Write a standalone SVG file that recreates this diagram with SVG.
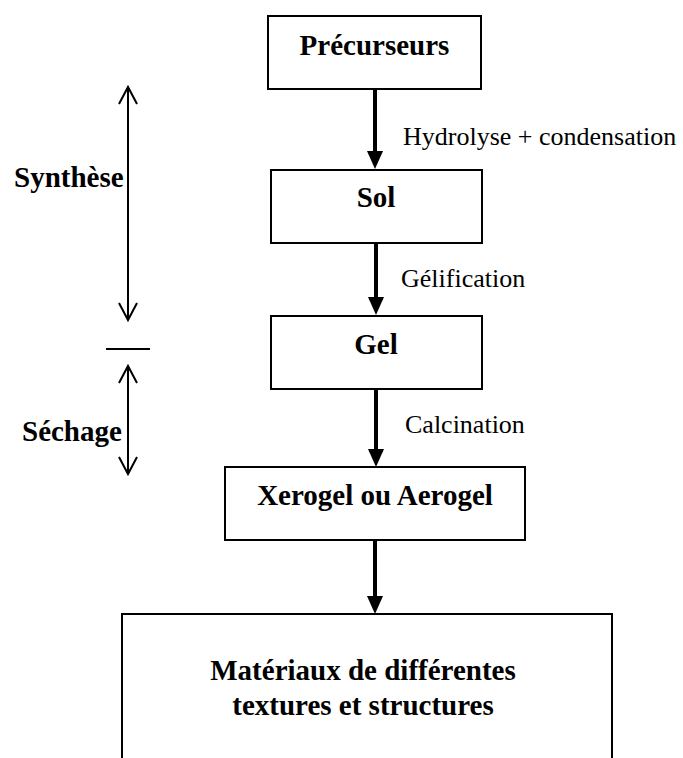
<svg xmlns="http://www.w3.org/2000/svg" width="683" height="758" viewBox="0 0 683 758">
<style>
.box{fill:#fff;stroke:#000;stroke-width:2}
.b{font-family:"Liberation Serif","Times New Roman",serif;font-weight:bold;font-size:29px;fill:#000}
.r{font-family:"Liberation Serif","Times New Roman",serif;font-size:26px;fill:#000}
.flow{stroke:#000;stroke-width:4;fill:none}
.thin{stroke:#000;stroke-width:2;fill:none}
</style>
<defs>
<marker id="ah" markerUnits="userSpaceOnUse" markerWidth="16" markerHeight="18" refX="8" refY="18" orient="auto-start-reverse" viewBox="0 0 16 18">
<path d="M0,0 L16,0 L8,18 Z" fill="#000" transform="rotate(0)"/>
</marker>
</defs>
<rect width="683" height="758" fill="#fff"/>
<g id="connectors">
<line class="flow" x1="375" y1="90" x2="375" y2="152"/>
<path d="M367,151 L383,151 L375,169 Z" fill="#000"/>
<line class="flow" x1="376" y1="244" x2="376" y2="298"/>
<path d="M368,297 L384,297 L376,315 Z" fill="#000"/>
<line class="flow" x1="376" y1="390" x2="376" y2="450"/>
<path d="M368,449 L384,449 L376,467 Z" fill="#000"/>
<line class="flow" x1="375" y1="541" x2="375" y2="597"/>
<path d="M367,596 L383,596 L375,614 Z" fill="#000"/>
<text class="r" x="403" y="145">Hydrolyse + condensation</text>
<text class="r" x="401" y="287">Gélification</text>
<text class="r" x="405" y="433">Calcination</text>
</g>
<g id="phases">
<line class="thin" x1="128" y1="87" x2="128" y2="320"/>
<path class="thin" d="M119,104 L128,87 L137,104 M119,303 L128,320 L137,303"/>
<line class="thin" x1="106" y1="349" x2="150" y2="349"/>
<line class="thin" x1="128" y1="366" x2="128" y2="474"/>
<path class="thin" d="M119,383 L128,366 L137,383 M119,457 L128,474 L137,457"/>
<text class="b" x="14" y="187">Synthèse</text>
<text class="b" x="22" y="441">Séchage</text>
</g>
<g id="precurseurs">
<rect class="box" x="268" y="16" width="213" height="73"/>
<text class="b" x="374.5" y="55" text-anchor="middle">Précurseurs</text>
</g>
<g id="sol">
<rect class="box" x="271" y="170" width="211" height="73"/>
<text class="b" x="376" y="207" text-anchor="middle">Sol</text>
</g>
<g id="gel">
<rect class="box" x="271" y="316" width="211" height="73"/>
<text class="b" x="376" y="354" text-anchor="middle">Gel</text>
</g>
<g id="xerogel">
<rect class="box" x="225" y="467" width="300" height="73"/>
<text class="b" x="375" y="505" text-anchor="middle">Xerogel ou Aerogel</text>
</g>
<g id="materiaux">
<path class="box" d="M122,760 L122,614 L612,614 L612,760"/>
<text class="b" x="363" y="680" text-anchor="middle">Matériaux de différentes</text>
<text class="b" x="363" y="715" text-anchor="middle">textures et structures</text>
</g>
</svg>
